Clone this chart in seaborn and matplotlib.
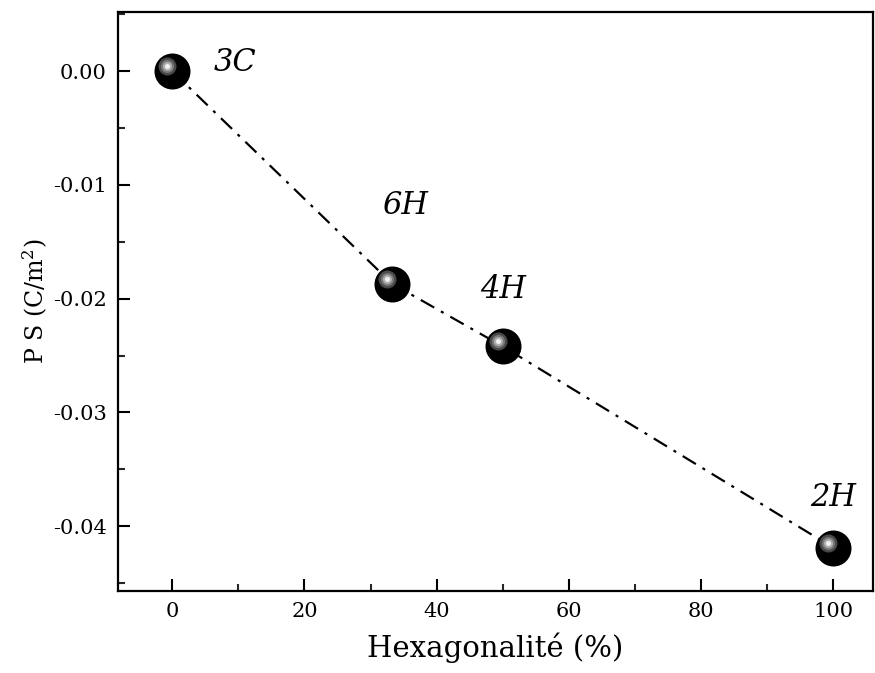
import matplotlib
matplotlib.use("Agg")
import matplotlib.pyplot as plt
import seaborn as sns
import pandas as pd
from matplotlib.ticker import MultipleLocator
from matplotlib.transforms import offset_copy

sns.set_theme(style="white")
plt.rcParams['font.family'] = ['DejaVu Serif']
plt.rcParams['mathtext.fontset'] = 'dejavuserif'

hexagonality = [0, 33.3, 50, 100]
ps_values = [0.0, -0.0187, -0.0242, -0.0419]
polytypes = ["3C", "6H", "4H", "2H"]
ytick_values = [0.0, -0.01, -0.02, -0.03, -0.04]
ytick_labels = ["0.00", "-0.01", "-0.02", "-0.03", "-0.04"]

df = pd.DataFrame({"hex": hexagonality, "ps": ps_values, "label": polytypes})

fig = plt.figure(figsize=(8.75, 6.73), dpi=100)
ax = fig.add_axes([0.1349, 0.1218, 0.9977 - 0.1349, 0.9822 - 0.1218])

px = 0.72  # points per pixel
sns.lineplot(data=df, x="hex", y="ps", ax=ax, color="black", lw=2.2 * px,
             linestyle=(0, (7, 3.5, 1.4, 3.5)), legend=False)
# sphere markers: black ball with grey highlight
sns.scatterplot(data=df, x="hex", y="ps", ax=ax, s=(36 * px) ** 2,
                color="black", edgecolor="black", linewidth=0, zorder=3, legend=False)
tr = offset_copy(ax.transData, fig=fig, x=-5, y=5, units='dots')
for d, c, z in [(18, "#4a4a4a", 4), (13, "#7a7a7a", 5), (9, "#b0b0b0", 6), (5, "#f2f2f2", 7)]:
    ax.scatter(df["hex"], df["ps"], s=(d * px) ** 2, color=c, lw=0, zorder=z, transform=tr)

label_offsets = [(9.5, 0.0008), (1.9, 0.0069), (0.1, 0.0050), (0.0, 0.0044)]
for xv, yv, lab, (dx, dy) in zip(hexagonality, ps_values, polytypes, label_offsets):
    ax.text(xv + dx, yv + dy, lab, fontsize=22, style="italic",
            ha="center", va="center", color="black")

ax.set_xlim(-8.2, 106)
ax.set_ylim(-0.0457, 0.0052)
ax.xaxis.set_major_locator(MultipleLocator(20))
ax.xaxis.set_minor_locator(MultipleLocator(10))
ax.yaxis.set_minor_locator(MultipleLocator(0.005))
ax.set_yticks(ytick_values)
ax.set_yticklabels(ytick_labels)
ax.tick_params(axis="both", which="major", direction="in", length=8.5, width=1.5,
               labelsize=15, pad=8, colors="black", bottom=True, left=True,
               top=False, right=False)
ax.tick_params(axis="both", which="minor", direction="in", length=5, width=1.5,
               bottom=True, left=True, top=False, right=False)
for sp in ax.spines.values():
    sp.set_linewidth(1.6)
    sp.set_color("black")

ax.set_xlabel("Hexagonalité (%)", fontsize=21, color="black", labelpad=8)
ax.set_ylabel("P S (C/m$^{2}$)", fontsize=17, color="black", labelpad=2)

fig.savefig("out.png", dpi=100)
